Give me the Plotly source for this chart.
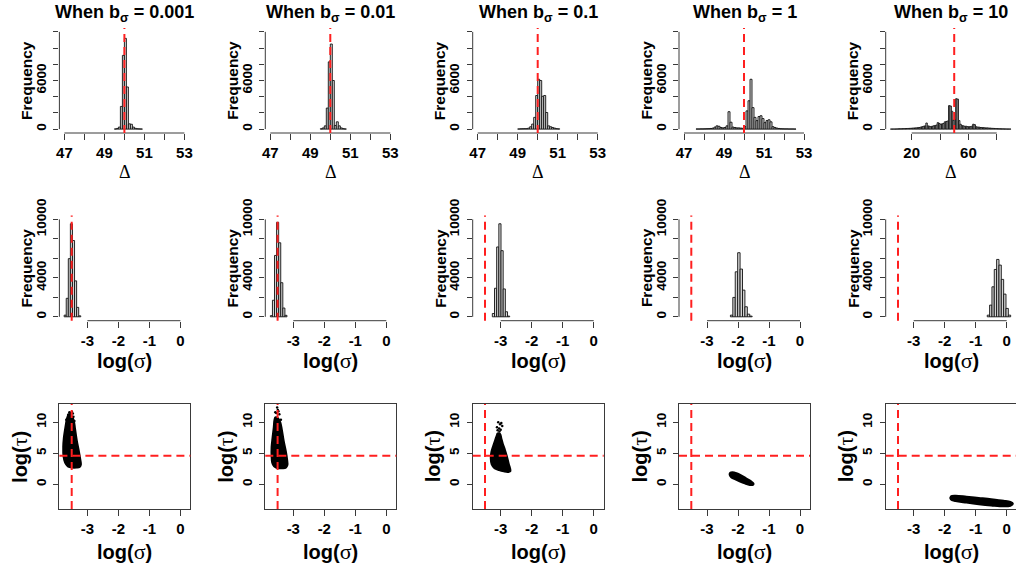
import numpy as np
import plotly.graph_objects as go

# ---------------------------------------------------------------- data
b_sigma_labels = ["0.001", "0.01", "0.1", "1", "10"]

true_delta = 50.0
true_log_sigma = float(np.log(0.03))
true_log_tau = float(np.log(100.0))

# posterior draws of Delta, binned: first break, bin width, counts
delta_first_break = [49.5, 49.5, 49.0, 47.6, 5.0]
delta_bin_width = [0.1, 0.1, 0.1, 0.1, 1.0]
delta_counts_b0001 = [20, 80, 250, 2800, 9100, 11200, 5200, 650, 600, 250, 100, 50, 30, 15]
delta_counts_b001 = [40, 150, 400, 2600, 8300, 10500, 6000, 450, 900, 400, 150, 60, 20]
delta_counts_b01 = [20, 40, 50, 60, 60, 120, 290, 620, 1450, 4150, 6150, 6000, 4050, 4150,
                    2050, 400, 290, 200, 120, 60, 30]
delta_counts_b1 = [20, 20, 30, 30, 40, 50, 60, 80, 120, 250, 400, 350, 200, 150, 200, 400,
                   2150, 850, 250, 200, 150, 150, 120, 100, 300, 2250, 3500, 6150, 2650, 1450,
                   1050, 1550, 1650, 1300, 800, 1050, 1150, 900, 300, 200, 120, 80, 50, 40,
                   30, 30, 20, 20, 20, 10]
delta_counts_b10 = [5, 5, 10, 10, 20, 30, 40, 40, 50, 60, 60, 70, 80, 90, 100, 120, 130, 150,
                    150, 200, 200, 250, 300, 350, 400, 750, 400, 350, 300, 350, 400, 450, 500,
                    800, 700, 600, 650, 700, 900, 950, 1000, 2900, 2850, 2200, 1100, 1200,
                    3750, 3700, 1050, 600, 450, 400, 350, 350, 300, 300, 300, 350, 600, 550,
                    300, 250, 250, 200, 200, 180, 160, 150, 150, 130, 120, 100, 90, 80, 70,
                    60, 50, 40, 30, 30, 20, 20, 10, 10, 10]
delta_counts = [delta_counts_b0001, delta_counts_b001, delta_counts_b01,
                delta_counts_b1, delta_counts_b10]

# posterior draws of log(sigma), binned
logsig_first_break = [-3.75, -3.74, -3.27, -2.245, -0.627]
logsig_bin_width = [0.067, 0.067, 0.07, 0.078, 0.0755]
logsig_counts_b0001 = [170, 1900, 5970, 9550, 7830, 3690, 970, 100]
logsig_counts_b001 = [120, 1700, 6300, 9700, 7600, 3500, 900, 150]
logsig_counts_b01 = [340, 2930, 7170, 9550, 6790, 2860, 520, 70]
logsig_counts_b1 = [170, 1990, 4620, 6580, 4900, 2740, 1030, 270, 70]
logsig_counts_b10 = [170, 1200, 3080, 4860, 5890, 5310, 3840, 2330, 860, 170]
logsig_counts = [logsig_counts_b0001, logsig_counts_b001, logsig_counts_b01,
                 logsig_counts_b1, logsig_counts_b10]

# joint draws of (log sigma, log tau): outline of the dense cloud and outlying draws
cloud_x_b0001 = [-3.60, -3.52, -3.44, -3.40, -3.34, -3.27, -3.23, -3.21, -3.25, -3.35, -3.50,
                 -3.63, -3.72, -3.77, -3.78, -3.76, -3.70, -3.66]
cloud_y_b0001 = [11.3, 11.1, 10.3, 9.0, 7.0, 5.2, 4.0, 3.2, 2.8, 2.7, 2.7, 2.9, 3.5, 4.5, 6.0,
                 7.5, 9.5, 10.6]
stray_x_b0001 = [-3.55, -3.50, -3.47, -3.58, -3.45, -3.62, -3.42, -3.68]
stray_y_b0001 = [11.5, 11.7, 11.4, 11.6, 10.9, 11.2, 10.2, 10.4]

cloud_x_b001 = [-3.58, -3.50, -3.42, -3.37, -3.31, -3.24, -3.20, -3.19, -3.24, -3.35, -3.50,
                -3.62, -3.68, -3.70, -3.70, -3.67, -3.63, -3.61]
cloud_y_b001 = [10.8, 10.7, 10.0, 8.8, 7.0, 5.3, 4.0, 3.1, 2.7, 2.6, 2.6, 2.9, 3.5, 4.5, 6.0,
                7.5, 9.2, 10.3]
stray_x_b001 = [-3.52, -3.48, -3.55, -3.45, -3.58, -3.50, -3.40]
stray_y_b001 = [12.4, 11.8, 11.5, 11.3, 11.6, 12.0, 10.4]

cloud_x_b01 = [-3.10, -3.02, -2.98, -2.93, -2.86, -2.80, -2.74, -2.69, -2.78, -2.90, -3.05,
               -3.20, -3.29, -3.32, -3.30, -3.24, -3.18, -3.13]
cloud_y_b01 = [8.2, 8.1, 7.4, 6.5, 5.5, 4.5, 3.3, 2.1, 2.0, 2.1, 2.3, 2.6, 3.2, 4.2, 5.2, 6.2,
               7.1, 7.8]
stray_x_b01 = [-3.08, -3.02, -2.98, -3.12, -3.05, -3.00, -3.10, -2.95, -3.04]
stray_y_b01 = [10.0, 9.7, 9.9, 9.2, 9.0, 8.8, 8.7, 9.4, 8.5]

cloud_x_b1 = [-2.25, -2.18, -2.05, -1.90, -1.75, -1.60, -1.50, -1.52, -1.62, -1.78, -1.95,
              -2.10, -2.22, -2.27]
cloud_y_b1 = [1.85, 1.95, 1.80, 1.45, 1.00, 0.55, 0.15, -0.08, -0.10, 0.15, 0.50, 0.85,
              1.15, 1.55]
stray_x_b1 = []
stray_y_b1 = []

cloud_x_b10 = [-1.80, -1.65, -1.30, -0.90, -0.50, -0.10, 0.12, 0.20, 0.12, -0.10, -0.50,
               -0.90, -1.30, -1.65, -1.80]
cloud_y_b10 = [-1.95, -1.85, -2.00, -2.20, -2.40, -2.65, -2.85, -3.15, -3.45, -3.55, -3.40,
               -3.20, -2.95, -2.70, -2.45]
stray_x_b10 = []
stray_y_b10 = []

cloud_x = [cloud_x_b0001, cloud_x_b001, cloud_x_b01, cloud_x_b1, cloud_x_b10]
cloud_y = [cloud_y_b0001, cloud_y_b001, cloud_y_b01, cloud_y_b1, cloud_y_b10]
stray_x = [stray_x_b0001, stray_x_b001, stray_x_b01, stray_x_b1, stray_x_b10]
stray_y = [stray_y_b0001, stray_y_b001, stray_y_b01, stray_y_b1, stray_y_b10]

# tick marks (all) and labelled ticks
delta_ticks = [47, 48, 49, 50, 51, 52, 53]
delta_labels = [47, 49, 51, 53]
delta_ticks_wide = [20, 40, 60, 80]
delta_labels_wide = [20, 60]
freq_ticks_top = [0, 2000, 4000, 6000, 8000, 10000, 12000]
freq_labels_top = [0, 6000]
freq_ticks_mid = [0, 2000, 4000, 6000, 8000, 10000]
freq_labels_mid = [0, 4000, 10000]
logsig_ticks = [-3, -2, -1, 0]
logtau_ticks = [0, 5, 10]

# ---------------------------------------------------------------- layout
W, H = 1016, 565
COL_LEFT = [59.4, 265.3, 472.7, 679.0, 885.7]
PANEL_W = 131.0
ROW_TOP = [28.0, 215.5, 404.0]
ROW_BOT = [133.0, 320.7, 509.0]

SANS = "Liberation Sans, Arial, Helvetica, sans-serif"
SERIF = "Liberation Serif, DejaVu Serif, serif"
AXIS_COL = "#3a3a3a"
RED = "#ff1f1f"
DASH = "8px,5px"


def names(row, col):
    i = row * 5 + col + 1
    s = "" if i == 1 else str(i)
    return "x" + s, "y" + s, "xaxis" + s, "yaxis" + s


def greek_label(letter):
    return ("<b>log(</b><span style=\"font-family:%s;font-size:22px\">%s</span><b>)</b>"
            % ("Liberation Serif", letter))


fig = go.Figure()
layout_axes = {}
shapes = []
annotations = []

for row in range(3):
    for col in range(5):
        xn, yn, xk, yk = names(row, col)
        left = COL_LEFT[col]
        right = min(left + PANEL_W, W)
        dom_x = [left / W, right / W]
        dom_y = [1 - ROW_BOT[row] / H, 1 - ROW_TOP[row] / H]
        width_px = right - left

        # pixel scale of the x axis
        if row == 0 and col < 4:
            ref_val, ref_off, ppu = 47.0, 5.0, 20.0
        elif row == 0:
            ref_val, ref_off, ppu = 20.0, 26.0, 1.417
        else:
            ref_val, ref_off, ppu = -3.0, 28.0, 31.0
        x0 = ref_val - ref_off / ppu
        xr = [x0, x0 + width_px / ppu]

        if row == 0:
            yr = [-480, 12480]
            if col < 4:
                xt, xl = delta_ticks, delta_labels
            else:
                xt, xl = delta_ticks_wide, delta_labels_wide
            yt, yl = freq_ticks_top, freq_labels_top
        elif row == 1:
            yr = [-400, 10400]
            xt, xl = logsig_ticks, logsig_ticks
            yt, yl = freq_ticks_mid, freq_labels_mid
        else:
            yr = [-3.98, 12.95]
            xt, xl = logsig_ticks, logsig_ticks
            yt, yl = logtau_ticks, logtau_ticks

        boxed = row == 2
        layout_axes[xk] = dict(
            domain=dom_x, range=xr, anchor=yn, showgrid=False, zeroline=False,
            showline=boxed, mirror=boxed, linecolor=AXIS_COL, linewidth=1,
            ticks="outside", ticklen=6, tickwidth=1, tickcolor=AXIS_COL,
            tickvals=xl, ticktext=["<b>%g</b>" % v for v in xl],
            minor=dict(tickvals=xt, ticks="outside", ticklen=6, tickwidth=1,
                       tickcolor=AXIS_COL, showgrid=False),
            tickfont=dict(family=SANS, size=15, color="black"),
            ticklabelstandoff=0, automargin=False, fixedrange=True,
        )
        layout_axes[yk] = dict(
            domain=dom_y, range=yr, anchor=xn, showgrid=False, zeroline=False,
            showline=boxed, mirror=boxed, linecolor=AXIS_COL, linewidth=1,
            ticks="outside", ticklen=5, tickwidth=1, tickcolor=AXIS_COL,
            tickvals=yl, ticktext=["<b>%g</b>" % v for v in yl], tickangle=-90,
            minor=dict(tickvals=yt, ticks="outside", ticklen=5, tickwidth=1,
                       tickcolor=AXIS_COL, showgrid=False),
            tickfont=dict(family=SANS, size=13.5, color="black"),
            ticklabelstandoff=2, automargin=False, fixedrange=True,
        )

        if row < 2:
            # axis lines spanning first to last tick only
            shapes.append(dict(type="line", xref=xn, yref=yn + " domain",
                               x0=xt[0], x1=xt[-1], y0=0, y1=0,
                               line=dict(color=AXIS_COL, width=1)))
            shapes.append(dict(type="line", xref=xn + " domain", yref=yn,
                               x0=0, x1=0, y0=yt[0], y1=yt[-1],
                               line=dict(color=AXIS_COL, width=1)))

        if row == 0:
            start, bw, counts = delta_first_break[col], delta_bin_width[col], delta_counts[col]
        elif row == 1:
            start, bw, counts = logsig_first_break[col], logsig_bin_width[col], logsig_counts[col]

        if row < 2:
            centers = [start + (i + 0.5) * bw for i in range(len(counts))]
            fig.add_trace(go.Bar(
                x=centers, y=counts, width=bw, xaxis=xn, yaxis=yn,
                marker=dict(color="#d3d3d3", line=dict(color="#111111", width=0.9)),
                showlegend=False, hoverinfo="skip",
            ))
        else:
            cx = cloud_x[col] + [cloud_x[col][0]]
            cy = cloud_y[col] + [cloud_y[col][0]]
            fig.add_trace(go.Scatter(
                x=cx, y=cy, mode="lines", fill="toself", fillcolor="black",
                line=dict(color="black", width=2, shape="spline"),
                xaxis=xn, yaxis=yn, showlegend=False, hoverinfo="skip",
            ))
            if stray_x[col]:
                fig.add_trace(go.Scatter(
                    x=stray_x[col], y=stray_y[col], mode="markers",
                    marker=dict(color="black", size=2.5),
                    xaxis=xn, yaxis=yn, showlegend=False, hoverinfo="skip",
                ))

        # reference values as dashed red lines
        vline = true_delta if row == 0 else true_log_sigma
        shapes.append(dict(type="line", xref=xn, yref=yn + " domain",
                           x0=vline, x1=vline, y0=0, y1=1,
                           line=dict(color=RED, width=2, dash=DASH)))
        if row == 2:
            shapes.append(dict(type="line", xref=xn + " domain", yref=yn,
                               x0=0, x1=1, y0=true_log_tau, y1=true_log_tau,
                               line=dict(color=RED, width=2, dash=DASH)))

        cx_paper = (left + PANEL_W / 2) / W
        # panel titles and axis titles
        if row == 0:
            annotations.append(dict(
                text="<b>When b<sub>σ</sub> = %s</b>" % b_sigma_labels[col],
                x=cx_paper, y=1 - 14 / H, xref="paper", yref="paper",
                xanchor="center", yanchor="middle", showarrow=False,
                font=dict(family=SANS, size=18, color="black")))
            annotations.append(dict(
                text="Δ", x=cx_paper, y=1 - 172 / H, xref="paper", yref="paper",
                xanchor="center", yanchor="middle", showarrow=False,
                font=dict(family=SERIF, size=18, color="black")))
        else:
            ty = 360 if row == 1 else 551
            annotations.append(dict(
                text=greek_label("σ"), x=cx_paper, y=1 - ty / H,
                xref="paper", yref="paper", xanchor="center", yanchor="middle",
                showarrow=False, font=dict(family=SANS, size=20, color="black")))
        if row < 2:
            annotations.append(dict(
                text="<b>Frequency</b>", x=(left - 33) / W,
                y=1 - (ROW_TOP[row] + ROW_BOT[row]) / 2 / H,
                xref="paper", yref="paper", xanchor="center", yanchor="middle",
                textangle=-90, showarrow=False,
                font=dict(family=SANS, size=15.5, color="black")))
        else:
            annotations.append(dict(
                text=greek_label("τ"), x=(left - 40) / W,
                y=1 - (ROW_TOP[row] + ROW_BOT[row]) / 2 / H,
                xref="paper", yref="paper", xanchor="center", yanchor="middle",
                textangle=-90, showarrow=False,
                font=dict(family=SANS, size=20, color="black")))

fig.update_layout(
    width=W, height=H, autosize=False,
    margin=dict(l=0, r=0, t=0, b=0),
    paper_bgcolor="white", plot_bgcolor="white",
    barmode="overlay", showlegend=False,
    shapes=shapes, annotations=annotations,
    **layout_axes,
)

fig.write_html("out.html")
